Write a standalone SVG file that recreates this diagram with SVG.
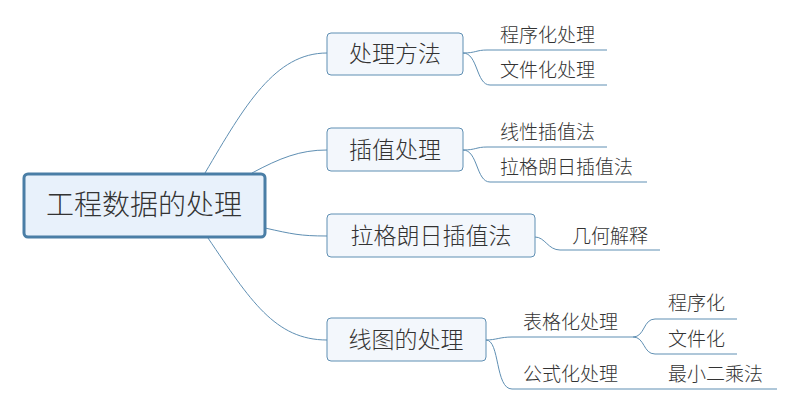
<svg xmlns="http://www.w3.org/2000/svg" width="797" height="411" viewBox="0 0 797 411">
<style>
text{font-family:"Noto Sans CJK SC","Noto Sans",sans-serif;fill:#333;font-weight:300}
.root rect{fill:#e8f1fb;stroke:#4a7ea6;stroke-width:3}
.main rect{fill:#f3f7fc;stroke:#5f8fb3;stroke-width:1}
.main text{font-size:23px}
.root text{font-size:28px}
.leaf text{font-size:19px}
.conn path{fill:none;stroke:#5f8fb3;stroke-width:1}
</style>
<rect width="797" height="411" fill="#fff"/>
<g class="conn">
<path d="M205,173 C245,105 275,53 327,53"/>
<path d="M252,173 C280,158 300,150 327,150"/>
<path d="M265,228 C292,234 300,236 327,236"/>
<path d="M208,238 C250,300 275,340 327,340"/>
<path d="M463,53 C476,53 476,50 487,50 L607,50"/>
<path d="M463,53 C478,53 476,85 490,85 L607,85"/>
<path d="M463,150 C476,150 476,147 487,147 L607,147"/>
<path d="M463,150 C478,150 476,182 490,182 L647,182"/>
<path d="M535,237 C545,237 548,250 560,250 L660,250"/>
<path d="M486,340 C496,340 500,337 512,337 L633,337"/>
<path d="M633,337 C645,337 643,319 655,319 L737,319"/>
<path d="M633,337 C645,337 643,354 655,354 L737,354"/>
<path d="M486,340 C500,340 495,389 512,389 L777,389"/>
</g>
<g id="root" class="root">
<rect x="24" y="174" width="241" height="63" rx="4"/>
<text x="144" y="215" text-anchor="middle">工程数据的处理</text>
</g>
<g id="n1" class="main">
<rect x="327" y="33" width="136" height="42" rx="4"/>
<text x="395" y="62" text-anchor="middle">处理方法</text>
</g>
<g id="n2" class="main">
<rect x="327" y="128" width="136" height="43" rx="4"/>
<text x="395" y="158" text-anchor="middle">插值处理</text>
</g>
<g id="n3" class="main">
<rect x="327" y="214" width="208" height="43" rx="4"/>
<text x="431" y="244" text-anchor="middle">拉格朗日插值法</text>
</g>
<g id="n4" class="main">
<rect x="327" y="318" width="159" height="43" rx="4"/>
<text x="406" y="348" text-anchor="middle">线图的处理</text>
</g>
<g id="l1" class="leaf"><text x="500" y="42">程序化处理</text></g>
<g id="l2" class="leaf"><text x="500" y="77">文件化处理</text></g>
<g id="l3" class="leaf"><text x="500" y="139">线性插值法</text></g>
<g id="l4" class="leaf"><text x="500" y="174">拉格朗日插值法</text></g>
<g id="l5" class="leaf"><text x="572" y="243">几何解释</text></g>
<g id="l6" class="leaf"><text x="523" y="329">表格化处理</text></g>
<g id="l7" class="leaf"><text x="668" y="310">程序化</text></g>
<g id="l8" class="leaf"><text x="668" y="346">文件化</text></g>
<g id="l9" class="leaf"><text x="523" y="381">公式化处理</text></g>
<g id="l10" class="leaf"><text x="668" y="381">最小二乘法</text></g>
</svg>
